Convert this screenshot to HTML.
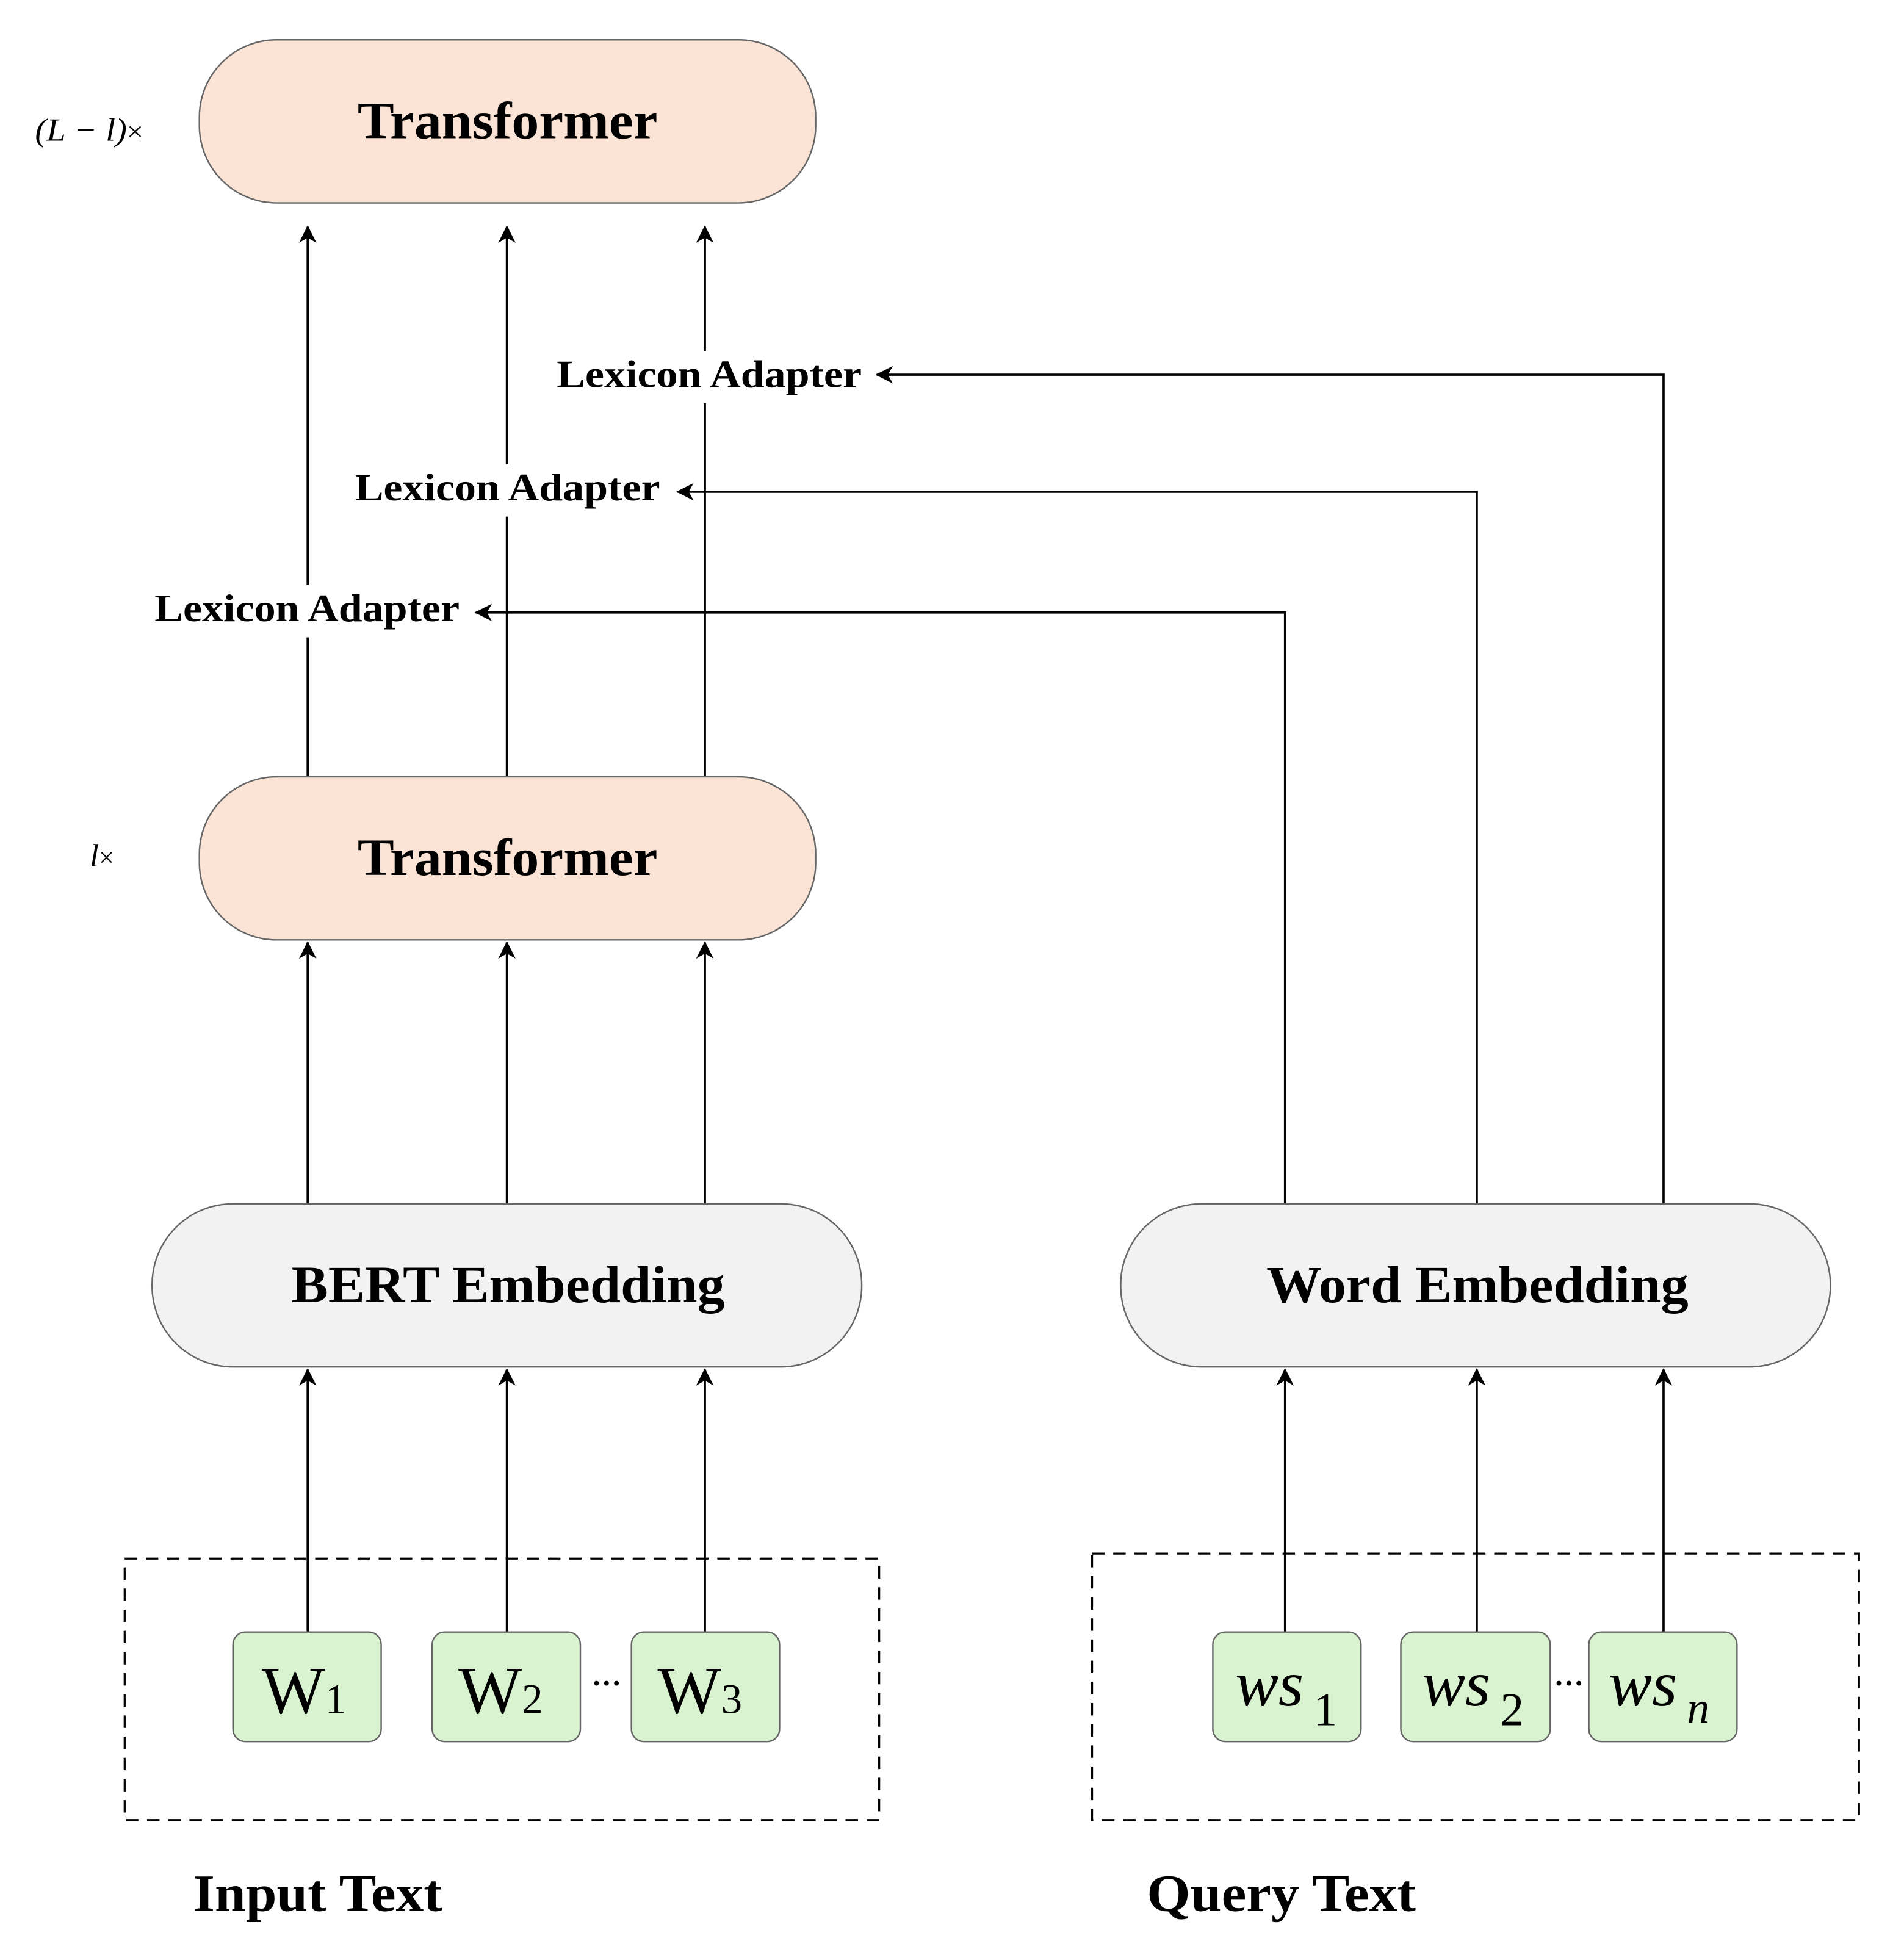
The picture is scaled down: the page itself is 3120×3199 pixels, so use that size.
<!DOCTYPE html>
<html><head><meta charset="utf-8"><style>
html,body{margin:0;padding:0;background:#fff;}
svg{display:block;}
text{font-family:"Liberation Serif",serif;}
</style></head><body>
<svg width="3120" height="3199" viewBox="0 0 1529 1568" xmlns="http://www.w3.org/2000/svg">
<defs>
<marker id="ah" markerWidth="14" markerHeight="16" refX="13" refY="8" orient="auto" markerUnits="userSpaceOnUse">
<path d="M0,1 L14,8 L0,15 L4,8 Z" fill="#000"/>
</marker>
</defs>
<rect width="1529" height="1568" fill="#fff"/>
<g stroke="#000" stroke-width="1.8" fill="none">
<line x1="247" y1="624" x2="247" y2="182" marker-end="url(#ah)"/>
<line x1="407" y1="624" x2="407" y2="182" marker-end="url(#ah)"/>
<line x1="566" y1="624" x2="566" y2="182" marker-end="url(#ah)"/>
<line x1="247" y1="967" x2="247" y2="757" marker-end="url(#ah)"/>
<line x1="407" y1="967" x2="407" y2="757" marker-end="url(#ah)"/>
<line x1="566" y1="967" x2="566" y2="757" marker-end="url(#ah)"/>
<line x1="247" y1="1311" x2="247" y2="1100" marker-end="url(#ah)"/>
<line x1="407" y1="1311" x2="407" y2="1100" marker-end="url(#ah)"/>
<line x1="566" y1="1311" x2="566" y2="1100" marker-end="url(#ah)"/>
<line x1="1032" y1="1311" x2="1032" y2="1100" marker-end="url(#ah)"/>
<line x1="1186" y1="1311" x2="1186" y2="1100" marker-end="url(#ah)"/>
<line x1="1336" y1="1311" x2="1336" y2="1100" marker-end="url(#ah)"/>
<polyline points="1336,967 1336,301 704,301" marker-end="url(#ah)"/>
<polyline points="1186,967 1186,395 544,395" marker-end="url(#ah)"/>
<polyline points="1032,967 1032,492 382,492" marker-end="url(#ah)"/>
</g>
<rect x="442" y="282" width="254" height="42" fill="#fff"/>
<rect x="281" y="373" width="254" height="42" fill="#fff"/>
<rect x="119" y="470" width="254" height="42" fill="#fff"/>
<g font-weight="bold" font-size="31" fill="#000" lengthAdjust="spacingAndGlyphs">
<text x="447" y="311" textLength="245" lengthAdjust="spacingAndGlyphs">Lexicon Adapter</text>
<text x="285" y="402" textLength="245" lengthAdjust="spacingAndGlyphs">Lexicon Adapter</text>
<text x="124" y="499" textLength="245" lengthAdjust="spacingAndGlyphs">Lexicon Adapter</text>
</g>
<rect x="160" y="32" width="495" height="131" rx="62" fill="#fbe3d6" stroke="#666" stroke-width="1.2"/>
<text x="287" y="111" font-weight="bold" font-size="42" textLength="241" lengthAdjust="spacingAndGlyphs">Transformer</text>
<rect x="160" y="624" width="495" height="131" rx="62" fill="#fbe3d6" stroke="#666" stroke-width="1.2"/>
<text x="287" y="703" font-weight="bold" font-size="42" textLength="241" lengthAdjust="spacingAndGlyphs">Transformer</text>
<text x="28" y="113" font-style="italic" font-size="26" textLength="87" lengthAdjust="spacingAndGlyphs">(L − l)<tspan font-style="normal" font-size="22">×</tspan></text>
<text x="72" y="696" font-style="italic" font-size="26">l<tspan font-style="normal" font-size="22">×</tspan></text>
<rect x="122" y="967" width="570" height="131" rx="65" fill="#f2f2f2" stroke="#666" stroke-width="1.2"/>
<text x="234" y="1046" font-weight="bold" font-size="42" textLength="348" lengthAdjust="spacingAndGlyphs">BERT Embedding</text>
<rect x="900" y="967" width="570" height="131" rx="65" fill="#f2f2f2" stroke="#666" stroke-width="1.2"/>
<text x="1017" y="1046" font-weight="bold" font-size="42" textLength="339" lengthAdjust="spacingAndGlyphs">Word Embedding</text>
<rect x="100" y="1252" width="606" height="210" fill="none" stroke="#000" stroke-width="1.6" stroke-dasharray="10,7"/>
<rect x="877" y="1248" width="616" height="214" fill="none" stroke="#000" stroke-width="1.6" stroke-dasharray="10,7"/>
<g fill="#d9f2d0" stroke="#666" stroke-width="1.2">
<rect x="187" y="1311" width="119" height="88" rx="10"/>
<rect x="347" y="1311" width="119" height="88" rx="10"/>
<rect x="507" y="1311" width="119" height="88" rx="10"/>
<rect x="974" y="1311" width="119" height="88" rx="10"/>
<rect x="1125" y="1311" width="120" height="88" rx="10"/>
<rect x="1276" y="1311" width="119" height="88" rx="10"/>
</g>
<g font-size="54" fill="#000">
<text x="210" y="1376">W<tspan font-size="34">1</tspan></text>
<text x="368" y="1376">W<tspan font-size="34">2</tspan></text>
<text x="528" y="1376">W<tspan font-size="34">3</tspan></text>
</g>
<g font-size="52" font-style="italic" fill="#000">
<text x="992" y="1370">ws<tspan font-style="normal" font-size="38" dx="8" dy="16">1</tspan></text>
<text x="1142" y="1370">ws<tspan font-style="normal" font-size="38" dx="8" dy="16">2</tspan></text>
<text x="1292" y="1370">ws<tspan font-size="36" dx="8" dy="14">n</tspan></text>
</g>
<g font-size="24" font-weight="bold" text-anchor="middle">
<text x="487" y="1360">···</text>
<text x="1260" y="1360">···</text>
</g>
<text x="155" y="1535" font-weight="bold" font-size="42" textLength="200" lengthAdjust="spacingAndGlyphs">Input Text</text>
<text x="921" y="1535" font-weight="bold" font-size="42" textLength="216" lengthAdjust="spacingAndGlyphs">Query Text</text>
</svg>
</body></html>
